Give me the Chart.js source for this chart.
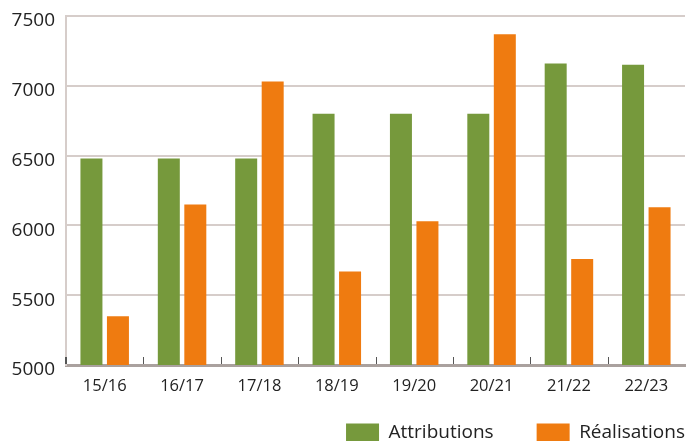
<!DOCTYPE html>
<html>
<head>
<meta charset="utf-8">
<script src="https://cdn.jsdelivr.net/npm/chart.js@4"></script>
<style>
  html, body { margin: 0; padding: 0; background: #fff; }
  #wrap { width: 688px; height: 441px; }
</style>
</head>
<body>
<div id="wrap"><canvas id="my-chart"></canvas></div>
<script>
const seasons = ['15/16', '16/17', '17/18', '18/19', '19/20', '20/21', '21/22', '22/23'];
const attributions = [6480, 6480, 6480, 6800, 6800, 6800, 7160, 7150];
const realisations = [5350, 6150, 7030, 5670, 6030, 7370, 5760, 6130];
const yTicks = [5000, 5500, 6000, 6500, 7000, 7500];

const FONT = 'Open Sans';
const LEGEND_GAP = 43;

// small tick marks on the bottom axis, between the categories
const tickMarks = {
    id: 'tickMarks',
    afterDatasetsDraw(chart) {
        const ctx = chart.ctx;
        const x = chart.scales.x;
        const bottom = chart.chartArea.bottom;
        ctx.save();
        ctx.strokeStyle = '#555';
        for (let i = 0; i < seasons.length; i++) {
            let px;
            if (i === 0) {
                px = chart.chartArea.left;
                ctx.lineWidth = 2;
            } else {
                px = Math.round((x.getPixelForValue(i - 1) + x.getPixelForValue(i)) / 2) + 0.5;
                ctx.lineWidth = 1;
            }
            ctx.beginPath();
            ctx.moveTo(px, bottom - 8);
            ctx.lineTo(px, bottom - 1);
            ctx.stroke();
        }
        ctx.restore();
    }
};

// legend: wide gap between the two items, but sitting low at the bottom right
const legendPlace = {
    id: 'legendPlace',
    afterInit(chart) {
        const legend = chart.legend;
        const fit = legend.fit;
        legend.fit = function () {
            fit.call(this);
            this.height = 36;
        };
    },
    afterLayout(chart) {
        const legend = chart.legend;
        legend.top = chart.height - 18 - LEGEND_GAP;
        legend.right = chart.width - 3 + LEGEND_GAP;
    }
};

const ctx = document.getElementById('my-chart').getContext('2d');

const chart = new Chart(ctx, {
    type: 'bar',
    data: {
        labels: seasons,
        datasets: [
            {
                label: 'Attributions',
                backgroundColor: '#76993c',
                data: attributions
            },
            {
                label: 'Réalisations',
                backgroundColor: '#ef7b10',
                data: realisations
            }
        ]
    },
    options: {
        responsive: true,
        maintainAspectRatio: false,
        animation: false,
        layout: { padding: { top: 16, right: 3, left: 0, bottom: 0 } },
        datasets: {
            bar: { barPercentage: 0.83, categoryPercentage: 0.685 }
        },
        scales: {
            x: {
                grid: { display: false, drawTicks: false },
                border: { color: '#aaa19e', width: 3 },
                afterFit: axis => { axis.height = 40; axis.paddingLeft = 0; axis.paddingRight = 0; },
                ticks: {
                    color: '#222',
                    font: { family: FONT, size: 16.5 },
                    padding: 11
                }
            },
            y: {
                min: 5000,
                max: 7500,
                afterBuildTicks: axis => { axis.ticks = yTicks.map(v => ({ value: v })); },
                afterFit: axis => { axis.width = 66; axis.paddingTop = 0; axis.paddingBottom = 0; },
                grid: { color: '#d6cdca', lineWidth: 2, drawTicks: false },
                border: { color: '#d6cdca', width: 2 },
                ticks: {
                    color: '#222',
                    font: { family: FONT, size: 19 },
                    padding: 11,
                    labelOffset: 5,
                    callback: v => String(v)
                }
            }
        },
        plugins: {
            tooltip: { enabled: false },
            legend: {
                position: 'bottom',
                align: 'end',
                labels: {
                    boxWidth: 33,
                    boxHeight: 18,
                    color: '#222',
                    font: { family: FONT, size: 19 },
                    padding: LEGEND_GAP
                }
            }
        }
    },
    plugins: [tickMarks, legendPlace]
});
</script>
</body>
</html>
